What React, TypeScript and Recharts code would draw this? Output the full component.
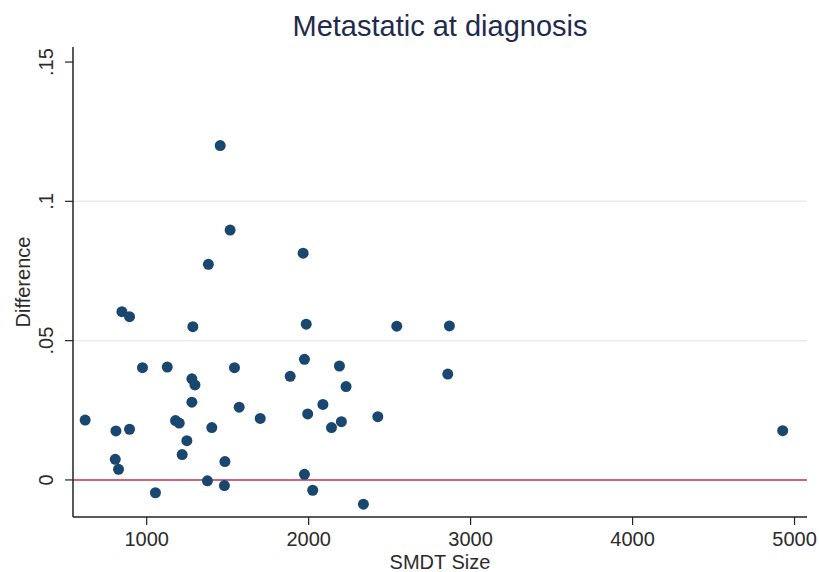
import React from 'react';
import { ScatterChart, Scatter, XAxis, YAxis, ReferenceLine } from 'recharts';

const smdtSize = [620, 810, 894, 806, 826, 847, 894, 974, 1054, 1127, 1178, 1201, 1219, 1248, 1285, 1279, 1298, 1279, 1381, 1375, 1402, 1454, 1483, 1480, 1515, 1542, 1571, 1701, 1886, 1966, 1974, 1985, 1974, 1994, 2025, 2088, 2141, 2190, 2202, 2231, 2338, 2427, 2544, 2859, 2869, 4927];
const difference = [0.0215, 0.0176, 0.0182, 0.0074, 0.0038, 0.0604, 0.0586, 0.0403, -0.0046, 0.0405, 0.0213, 0.0204, 0.0091, 0.0141, 0.055, 0.0363, 0.0341, 0.0279, 0.0774, -0.0003, 0.0188, 0.12, 0.0066, -0.002, 0.0897, 0.0403, 0.0261, 0.0221, 0.0372, 0.0814, 0.0433, 0.0559, 0.002, 0.0237, -0.0037, 0.0271, 0.0188, 0.0409, 0.0209, 0.0335, -0.0087, 0.0227, 0.0552, 0.038, 0.0553, 0.0177];
const xTicks = [1000, 2000, 3000, 4000, 5000];
const yTicks = [0, 0.05, 0.1, 0.15];
const yTickLabels = ['0', '.05', '.1', '.15'];
const gridValues = [0.05, 0.1];

const data = smdtSize.map((x, i) => ({ x, y: difference[i] }));

const FONT = 'Liberation Sans, Arial, sans-serif';
const TEXT_COLOR = '#2b2b2b';
const MARKER = '#1a476f';
const FS = 20;

const YTick = (props: any) => {
  const { x, y, payload } = props;
  const idx = yTicks.indexOf(payload.value);
  const label = idx >= 0 ? yTickLabels[idx] : String(payload.value);
  const cx = x - 17;
  return (
    <text
      x={cx}
      y={y}
      transform={`rotate(-90, ${cx}, ${y})`}
      textAnchor="middle"
      dominantBaseline="central"
      fontSize={FS}
      fontFamily={FONT}
      fill={TEXT_COLOR}
    >
      {label}
    </text>
  );
};

const XTick = (props: any) => {
  const { x, y, payload } = props;
  return (
    <text x={x} y={y + 12} textAnchor="middle" dominantBaseline="central" fontSize={FS} fontFamily={FONT} fill={TEXT_COLOR}>
      {payload.value}
    </text>
  );
};

const Dot = (props: any) => {
  const { cx, cy } = props;
  if (cx == null || cy == null) return null;
  return <circle cx={cx} cy={cy} r={5.5} fill={MARKER} />;
};

export default function App() {
  return (
    <div style={{ position: 'absolute', left: 0, top: 0, width: 819, height: 572, background: '#fff' }}>
      <ScatterChart width={819} height={572} margin={{ top: 47, right: 12, bottom: 24, left: 0 }}>
        <text x={440} y={26} textAnchor="middle" dominantBaseline="central" fontSize={29} fontFamily={FONT} fill="#1f2b4d">
          Metastatic at diagnosis
        </text>
        {gridValues.map((v) => (
          <ReferenceLine key={v} y={v} stroke="#ececec" strokeWidth={1.5} />
        ))}
        <XAxis
          type="number"
          dataKey="x"
          domain={[545, 5077]}
          ticks={xTicks}
          allowDataOverflow
          height={31}
          tickSize={8}
          tick={<XTick />}
          axisLine={{ stroke: '#222', strokeWidth: 1.5 }}
          tickLine={{ stroke: '#222', strokeWidth: 1.2 }}
          label={(p: any) => {
            const vb = p.viewBox || {};
            return (
              <text x={vb.x + vb.width / 2} y={562} textAnchor="middle" dominantBaseline="central" fontSize={FS} fontFamily={FONT} fill={TEXT_COLOR}>
                SMDT Size
              </text>
            );
          }}
        />
        <YAxis
          type="number"
          dataKey="y"
          domain={[-0.0133, 0.1554]}
          ticks={yTicks}
          allowDataOverflow
          width={73}
          tickSize={8}
          tick={<YTick />}
          axisLine={{ stroke: '#222', strokeWidth: 1.5 }}
          tickLine={{ stroke: '#222', strokeWidth: 1.2 }}
          label={(p: any) => {
            const vb = p.viewBox || {};
            const cy = vb.y + vb.height / 2;
            return (
              <text x={23} y={cy} transform={`rotate(-90, 23, ${cy})`} textAnchor="middle" dominantBaseline="central" fontSize={FS} fontFamily={FONT} fill={TEXT_COLOR}>
                Difference
              </text>
            );
          }}
        />
        <ReferenceLine y={0} stroke="#c1304f" strokeWidth={1.5} />
        <Scatter data={data} shape={<Dot />} isAnimationActive={false} />
      </ScatterChart>
    </div>
  );
}
